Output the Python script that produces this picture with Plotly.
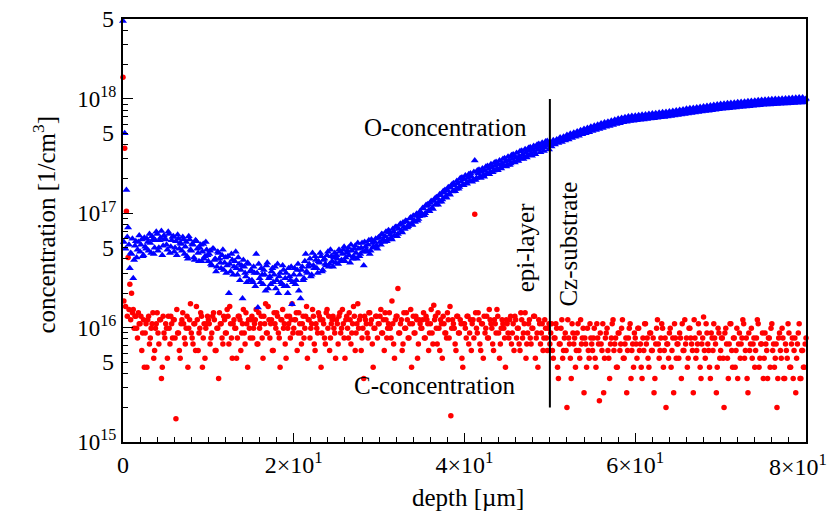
import plotly.graph_objects as go
import math

DEPTH_STEP_UM = 0.2

# O-concentration, units of 1e16 cm^-3, read at depths 0.0, 0.2, ... 80.0 um
O_1e16 = [
    480, 50, 16, 7.5, 3.3, 4.4, 2.7, 5.2, 4.1, 5.6, 4.6, 5.9, 4.3, 5.1, 6.0, 4.7, 5.5, 6.3, 4.4, 5.8, 6.6, 5.0, 6.1, 4.3, 6.4,
    5.9, 4.8, 6.6, 5.1, 6.2, 4.6, 5.7, 6.5, 4.9, 5.4, 6.2, 4.4, 5.6, 4.0, 5.9, 4.7, 5.3, 3.9, 5.7, 4.5, 5.0, 3.8, 5.4, 4.2, 4.8,
    3.8, 4.7, 3.5, 4.9, 4.0, 3.4, 4.5, 3.7, 4.3, 3.2, 4.1, 3.5, 2.0, 3.1, 3.9, 3.4, 4.6, 2.9, 3.6, 3.2, 1.8, 3.4, 2.8, 3.7, 2.6,
    3.2, 2.5, 3.0, 4.4, 1.5, 2.7, 3.3, 2.4, 2.9, 3.5, 2.2, 2.8, 3.1, 2.5, 3.4, 2.6, 2.0, 3.0, 2.4, 3.2, 2.7, 2.3, 3.3, 2.6, 1.6,
    2.9, 2.4, 3.2, 2.1, 1.8, 3.4, 2.7, 4.4, 3.0, 3.6, 2.8, 4.5, 3.3, 3.9, 3.0, 3.7, 4.2, 3.2, 4.0, 3.5, 4.6, 3.6, 4.2, 3.4, 4.5,
    4.3, 3.6, 4.6, 3.9, 4.8, 3.8, 4.5, 5.0, 3.7, 4.7, 4.2, 5.2, 4.0, 4.9, 4.4, 5.5, 3.5, 5.1, 4.6, 5.8, 4.7, 5.5, 5.0, 6.0, 4.9,
    6.2, 5.3, 6.5, 5.6, 6.9, 5.9, 6.8, 6.1, 7.3, 6.4, 7.6, 6.6, 7.9, 7.0, 8.3, 7.3, 8.5, 7.7, 9.0, 8.1, 9.5, 8.4, 9.9, 8.9, 10.4,
    9.5, 11.0, 10.0, 11.6, 10.6, 12.3, 11.2, 12.9, 11.9, 13.6, 12.6, 14.4, 13.2, 15.1, 14.0, 15.9, 14.8, 16.7, 15.5, 17.6, 16.3, 18.2, 17.0, 19.0, 17.8,
    19.8, 18.4, 20.3, 19.1, 21.0, 19.6, 29.0, 20.4, 22.3, 20.9, 23.0, 21.5, 23.6, 22.2, 24.4, 22.8, 25.1, 23.6, 25.9, 24.4, 26.7, 25.0, 27.4, 25.8, 28.2,
    26.6, 28.9, 27.3, 29.8, 28.2, 30.7, 29.0, 31.6, 30.0, 32.6, 31.1, 33.8, 32.2, 35.0, 33.4, 36.1, 34.5, 37.2, 35.7, 38.3, 36.6, 39.2, 37.6, 40.1, 38.7,
    41.8, 38.4, 43.5, 39.9, 44.1, 41.2, 45.9, 42.0, 46.6, 43.3, 48.4, 44.1, 49.5, 45.6, 50.6, 46.8, 52.0, 47.6, 53.3, 49.0, 54.5, 50.1, 55.6, 51.2, 57.0,
    52.4, 58.2, 53.5, 59.6, 54.7, 60.9, 55.7, 62.1, 57.0, 63.3, 58.1, 64.5, 59.3, 65.8, 60.4, 67.1, 61.3, 68.1, 62.4, 69.2, 63.2, 70.2, 64.1, 70.9, 64.6,
    71.3, 65.0, 71.9, 65.6, 72.6, 66.1, 73.2, 66.7, 73.9, 67.3, 74.4, 67.9, 75.1, 68.4, 75.7, 69.0, 76.3, 69.6, 77.0, 70.2, 77.6, 70.9, 78.4, 71.6, 79.3,
    72.4, 80.2, 73.1, 81.0, 73.9, 81.9, 74.6, 82.7, 75.3, 83.5, 76.1, 84.3, 76.8, 85.2, 77.6, 86.0, 78.3, 86.8, 79.0, 87.7, 79.8, 88.5, 80.5, 89.3, 81.3,
    90.3, 82.0, 90.9, 82.5, 91.6, 83.1, 92.2, 83.7, 92.8, 84.2, 93.5, 84.8, 94.1, 85.4, 94.7, 85.9, 95.4, 86.5, 96.0, 87.1, 96.6, 87.6, 97.3, 88.2, 97.9,
    88.8, 98.4, 89.2, 98.8, 89.5, 99.3, 89.9, 99.7, 90.3, 100.1, 90.7, 100.5, 91.0, 101.0, 91.4, 101.4, 91.8, 101.8, 92.2, 102.3, 92.5, 102.7, 92.9, 103.1, 93.3,
    100.5,
]

# O-concentration, units of 1e16 cm^-3, read at depths 0.1, 0.3, ... 79.9 um
O_mid_1e16 = [
    5.6, 4.9, 6.2, 5.3, 4.5, 6.0, 3.9, 5.7, 4.8, 6.4, 5.3, 4.2, 6.1, 4.9, 5.6, 6.6, 4.5, 5.9, 5.0, 6.9, 4.7, 5.8, 7.0, 5.2, 6.0,
    5.3, 6.9, 4.5, 5.8, 6.3, 5.0, 4.3, 6.0, 5.5, 4.7, 5.9, 5.1, 4.2, 6.3, 4.8, 5.4, 4.1, 5.8, 4.9, 3.8, 5.3, 4.6, 4.0, 5.6, 4.3,
    4.4, 3.6, 4.9, 3.9, 3.1, 4.6, 4.0, 3.3, 4.8, 3.7, 3.0, 4.2, 3.6, 4.4, 2.9, 3.8, 3.3, 4.1, 2.6, 3.5, 3.9, 3.0, 2.5, 3.6, 3.1,
    2.6, 3.4, 2.3, 3.0, 3.6, 2.5, 2.9, 3.2, 2.1, 3.7, 2.7, 2.4, 3.3, 2.9, 2.2, 3.6, 2.8, 2.5, 3.5, 2.3, 3.0, 2.0, 2.8, 3.4, 2.5,
    3.3, 2.6, 3.6, 2.9, 3.2, 2.6, 3.8, 3.1, 3.4, 4.0, 2.9, 3.5, 4.2, 3.3, 3.8, 4.5, 3.1, 3.9, 3.6, 4.3, 3.4, 4.8, 3.8, 4.1, 3.7,
    4.0, 4.8, 3.8, 4.4, 5.1, 4.1, 4.7, 4.3, 5.3, 4.0, 4.9, 4.5, 5.5, 4.2, 5.0, 4.6, 5.6, 4.8, 5.3, 4.4, 5.9, 5.1, 5.6, 5.2, 6.1,
    5.6, 6.6, 5.9, 6.3, 5.7, 7.1, 6.5, 5.9, 6.9, 7.6, 6.3, 7.3, 8.1, 6.8, 7.6, 8.6, 7.5, 8.0, 9.2, 7.9, 8.7, 9.6, 8.6, 9.4, 10.0,
    11.1, 9.6, 11.8, 12.0, 10.4, 12.8, 10.9, 13.4, 13.8, 11.9, 14.7, 12.6, 15.6, 16.0, 13.7, 16.9, 14.5, 17.8, 18.3, 15.6, 19.2, 16.4, 20.2, 20.6, 17.6,
    21.4, 18.1, 22.0, 22.3, 18.9, 23.0, 19.5, 23.7, 24.0, 20.3, 24.6, 20.9, 25.5, 25.9, 22.0, 26.8, 22.8, 27.7, 28.1, 23.8, 29.0, 24.6, 29.9, 30.3, 25.7,
    31.2, 26.5, 32.2, 32.7, 27.8, 33.7, 28.6, 34.8, 35.2, 29.8, 36.3, 30.7, 37.3, 37.8, 31.9, 38.8, 32.9, 39.8, 40.3, 34.1, 41.3, 35.0, 42.4, 42.8, 36.2,
    40.3, 41.0, 41.4, 42.2, 42.6, 43.4, 43.8, 44.6, 45.0, 45.8, 46.2, 47.0, 47.4, 48.2, 48.6, 49.4, 49.8, 50.6, 51.0, 51.8, 52.2, 53.0, 53.4, 54.2, 54.6,
    55.6, 55.7, 56.8, 56.9, 58.0, 58.1, 59.2, 59.3, 60.4, 60.5, 61.6, 61.7, 62.8, 62.9, 64.0, 64.0, 65.0, 65.0, 66.0, 66.0, 67.0, 66.9, 67.7, 67.5, 68.3,
    68.5, 68.3, 69.1, 68.9, 69.7, 69.5, 70.3, 70.1, 70.9, 70.7, 71.5, 71.3, 72.1, 71.9, 72.7, 72.5, 73.3, 73.1, 73.9, 73.7, 74.5, 74.4, 75.3, 75.2, 76.1,
    76.5, 76.4, 77.3, 77.2, 78.1, 78.0, 78.9, 78.8, 79.7, 79.6, 80.5, 80.4, 81.3, 81.2, 82.1, 82.0, 82.9, 82.8, 83.7, 83.6, 84.5, 84.4, 85.3, 85.2, 86.1,
    86.4, 86.5, 87.0, 87.1, 87.6, 87.7, 88.2, 88.3, 88.8, 88.9, 89.4, 89.5, 90.0, 90.1, 90.6, 90.7, 91.2, 91.3, 91.8, 91.9, 92.4, 92.5, 93.0, 93.1, 93.6,
    93.9, 93.8, 94.3, 94.2, 94.7, 94.6, 95.1, 95.0, 95.5, 95.4, 95.9, 95.8, 96.3, 96.2, 96.7, 96.6, 97.1, 97.0, 97.5, 97.4, 97.9, 97.8, 98.3, 98.2, 98.7,
]

# C-concentration, units of 1e15 cm^-3, read at depths 0.0, 0.2, ... 80.0 um
C_1e15 = [
    1550, 370, 104, 41, 24, 20, 14.4, 12.6, 9.9, 13.5, 10.8, 6.3, 11.7, 9.0, 4.5, 12.6, 8.1, 10.8, 5.4, 9.9, 13.5, 7.2, 11.7, 4.5, 9.0,
    10.8, 5.4, 9.9, 12.6, 8.1, 11.7, 1.6, 9.0, 6.3, 10.8, 13.5, 8.1, 9.9, 4.5, 11.7, 9.0, 7.2, 10.8, 15.3, 6.3, 9.9, 12.6, 8.1, 5.4, 10.8,
    11.7, 7.2, 9.0, 13.5, 6.3, 9.9, 3.6, 10.8, 8.1, 12.6, 9.0, 14.4, 7.2, 10.8, 5.4, 11.7, 9.9, 8.1, 12.6, 6.3, 10.8, 9.0, 13.5, 4.5, 9.9,
    11.7, 8.1, 10.8, 14.4, 7.2, 9.9, 12.6, 5.4, 10.8, 9.0, 15.3, 8.1, 11.7, 6.3, 10.8, 13.5, 9.0, 4.5, 11.7, 9.9, 7.2, 12.6, 10.8, 8.1, 16.2,
    9.9, 11.7, 6.3, 13.5, 9.0, 10.8, 8.1, 12.6, 5.4, 11.7, 9.9, 14.4, 7.2, 10.8, 9.0, 12.6, 4.5, 11.7, 8.1, 13.5, 9.9, 6.3, 10.8, 12.6, 9.0,
    11.7, 7.2, 13.5, 9.9, 10.8, 5.4, 12.6, 8.1, 11.7, 9.0, 15.3, 6.3, 10.8, 9.9, 12.6, 8.1, 3.6, 11.7, 9.0, 13.5, 10.8, 7.2, 9.9, 12.6, 8.1,
    10.8, 14.4, 9.0, 6.3, 11.7, 9.9, 13.5, 8.1, 10.8, 5.4, 12.6, 22.0, 9.0, 11.7, 7.2, 9.9, 13.5, 8.1, 10.8, 4.5, 12.6, 9.0, 11.7, 7.2, 10.8,
    9.9, 13.5, 8.1, 11.7, 6.3, 10.8, 9.0, 15.7, 12.6, 7.2, 9.9, 11.7, 5.4, 10.8, 9.0, 13.5, 8.1, 1.7, 11.7, 9.9, 6.3, 12.6, 9.0, 10.8, 4.5,
    10.8, 8.1, 12.6, 9.0, 6.3, 11.7, 98, 9.9, 13.5, 7.2, 10.8, 5.4, 9.0, 12.6, 8.1, 11.7, 9.9, 6.3, 10.8, 14.4, 9.0, 7.2, 11.7, 9.9, 4.5,
    10.8, 8.1, 12.6, 9.0, 6.3, 11.7, 9.9, 7.2, 13.5, 8.1, 10.8, 5.4, 9.0, 11.7, 7.2, 9.9, 12.6, 8.1, 4.5, 10.8, 9.0, 6.3, 11.7, 8.1, 9.9,
    7.2, 10.8, 5.4, 8.1, 9.9, 3.6, 7.2, 11.7, 6.3, 9.0, 2.0, 8.1, 5.4, 10.8, 7.2, 4.5, 9.0, 6.3, 11.7, 8.1, 2.7, 7.2, 9.9, 5.4, 8.1,
    6.3, 9.9, 4.5, 8.1, 2.3, 7.2, 10.8, 5.4, 9.0, 6.3, 3.6, 8.1, 11.7, 7.2, 4.5, 9.0, 6.3, 9.9, 5.4, 7.2, 2.7, 8.1, 10.8, 6.3, 4.5,
    8.1, 5.4, 9.9, 7.2, 3.6, 6.3, 10.8, 8.1, 4.5, 9.0, 6.3, 2.7, 7.2, 11.7, 5.4, 8.1, 9.9, 6.3, 2.0, 7.2, 9.0, 4.5, 8.1, 10.8, 5.4,
    7.2, 9.0, 3.6, 6.3, 11.7, 8.1, 5.4, 9.9, 7.2, 2.7, 8.1, 6.3, 10.8, 4.5, 7.2, 12.4, 5.4, 9.0, 6.3, 3.6, 8.1, 10.8, 7.2, 4.5, 9.0,
    6.3, 8.1, 2.0, 9.9, 5.4, 7.2, 10.8, 4.5, 8.1, 6.3, 3.6, 9.0, 7.2, 11.7, 5.4, 8.1, 2.7, 6.3, 9.9, 7.2, 4.5, 8.1, 10.8, 5.4, 7.2,
    3.6, 9.0, 6.3, 8.1, 4.5, 10.8, 7.2, 5.4, 2.0, 8.1, 6.3, 9.9, 3.6, 7.2, 5.4, 9.0, 4.5, 8.1, 6.3, 2.7, 7.2, 10.8, 3.6, 6.3, 4.5,
    8.1,
]

# C-concentration, units of 1e15 cm^-3, read at depths 0.1, 0.3, ... 79.9 um
C_mid_1e15 = [
    17.1, 15.3, 12.6, 14.4, 11.7, 13.5, 9.9, 12.6, 8.1, 10.8, 12.6, 9.0, 4.5, 10.8, 11.7, 7.2, 9.9, 13.5, 6.3, 10.8, 9.0, 11.7, 3.6, 12.6, 8.1,
    9.9, 12.6, 7.2, 10.8, 11.7, 8.1, 14.4, 9.0, 5.4, 11.7, 10.8, 7.2, 12.6, 9.9, 16.2, 8.1, 10.8, 6.3, 11.7, 9.0, 13.5, 4.5, 10.8, 9.9, 12.6,
    10.8, 8.1, 12.6, 11.7, 6.3, 9.9, 13.5, 10.8, 7.2, 11.7, 9.0, 12.6, 15.3, 8.1, 10.8, 9.9, 5.4, 12.6, 11.7, 9.0, 14.4, 7.2, 10.8, 11.7, 8.1,
    12.6, 9.9, 11.7, 7.2, 13.5, 10.8, 8.1, 12.6, 16.2, 9.0, 11.7, 10.8, 6.3, 13.5, 9.9, 12.6, 8.1, 11.7, 14.4, 10.8, 5.4, 9.9, 12.6, 11.7, 9.0,
    11.7, 13.5, 9.0, 10.8, 7.2, 12.6, 9.9, 15.3, 11.7, 8.1, 10.8, 12.6, 6.3, 9.9, 13.5, 11.7, 9.0, 10.8, 7.2, 14.4, 12.6, 8.1, 11.7, 9.9, 5.4,
    10.8, 12.6, 9.0, 14.4, 8.1, 11.7, 9.9, 13.5, 7.2, 10.8, 12.6, 9.0, 16.2, 11.7, 6.3, 9.9, 12.6, 10.8, 8.1, 13.5, 11.7, 4.5, 9.9, 12.6, 10.8,
    12.6, 9.0, 11.7, 13.5, 8.1, 10.8, 9.9, 17.1, 7.2, 11.7, 12.6, 9.0, 10.8, 6.3, 13.5, 9.9, 11.7, 8.1, 14.4, 10.8, 9.0, 12.6, 5.4, 11.7, 9.9,
    11.7, 8.1, 12.6, 10.8, 9.0, 14.4, 7.2, 11.7, 9.9, 13.5, 6.3, 10.8, 12.6, 9.0, 8.1, 11.7, 15.3, 9.9, 10.8, 7.2, 12.6, 9.0, 11.7, 5.4, 10.8,
    9.9, 12.6, 7.2, 11.7, 10.8, 8.1, 13.5, 9.0, 11.7, 6.3, 10.8, 12.6, 9.9, 8.1, 14.4, 10.8, 7.2, 11.7, 9.0, 12.6, 5.4, 9.9, 10.8, 8.1, 11.7,
    9.0, 11.7, 7.2, 10.8, 12.6, 8.1, 9.9, 6.3, 11.7, 9.0, 13.5, 7.2, 10.8, 8.1, 9.9, 12.6, 5.4, 9.0, 11.7, 7.2, 10.8, 8.1, 9.9, 6.3, 10.8,
    9.0, 6.3, 8.1, 10.8, 4.5, 7.2, 9.9, 5.4, 8.1, 6.3, 11.7, 7.2, 3.6, 9.0, 8.1, 6.3, 10.8, 5.4, 7.2, 9.9, 8.1, 4.5, 6.3, 10.8, 7.2,
    8.1, 5.4, 10.8, 7.2, 9.0, 6.3, 2.7, 8.1, 9.9, 5.4, 7.2, 10.8, 6.3, 8.1, 4.5, 9.0, 7.2, 11.7, 5.4, 8.1, 6.3, 9.9, 3.6, 7.2, 9.0,
    7.2, 9.9, 6.3, 4.5, 8.1, 10.8, 7.2, 5.4, 9.0, 6.3, 8.1, 3.6, 9.9, 7.2, 6.3, 10.8, 4.5, 8.1, 7.2, 5.4, 9.9, 6.3, 2.7, 8.1, 7.2,
    5.4, 8.1, 10.8, 6.3, 7.2, 4.5, 9.9, 8.1, 6.3, 11.7, 5.4, 7.2, 9.0, 3.6, 8.1, 6.3, 10.8, 7.2, 4.5, 9.0, 6.3, 8.1, 2.7, 9.9, 5.4,
    8.1, 5.4, 9.0, 7.2, 3.6, 10.8, 6.3, 8.1, 4.5, 9.9, 7.2, 5.4, 8.1, 10.8, 6.3, 3.6, 9.0, 7.2, 5.4, 8.1, 6.3, 11.7, 4.5, 7.2, 9.0,
    5.4, 7.2, 3.6, 8.1, 9.9, 6.3, 4.5, 7.2, 3.6, 9.0, 5.4, 8.1, 3.6, 6.3, 10.8, 4.5, 7.2, 3.6, 8.1, 5.4, 9.0, 3.6, 6.3, 4.5, 7.2,
]

assert len(O_1e16) == 401 and len(C_1e15) == 401, (len(O_1e16), len(C_1e15))
assert len(O_mid_1e16) == 400 and len(C_mid_1e15) == 400, (len(O_mid_1e16), len(C_mid_1e15))

depth_um = [round(i * DEPTH_STEP_UM, 1) for i in range(len(O_1e16))]
depth_mid_um = [round(i * DEPTH_STEP_UM + DEPTH_STEP_UM / 2, 1) for i in range(len(O_mid_1e16))]

all_depth = depth_um + depth_mid_um
O_conc = [v * 1e16 for v in O_1e16 + O_mid_1e16]
C_conc = [v * 1e15 for v in C_1e15 + C_mid_1e15]

# epi-layer / Cz-substrate interface
interface_depth = [50, 50]
interface_span = [2e15, 1e18]

# axis ticks (the last x label is drawn as an annotation so it stays inside the page)
x_tick_vals = [0, 20, 40, 60, 80]
x_tick_text = ["0", "2×10<sup>1</sup>", "4×10<sup>1</sup>", "6×10<sup>1</sup>", ""]
x_last_label = "8×10<sup>1</sup>"
y_major_vals = [1e15, 1e16, 1e17, 1e18]
y_major_text = ["10<sup>15</sup>", "10<sup>16</sup>", "10<sup>17</sup>", "10<sup>18</sup>"]
y_five_vals = [5e15, 5e16, 5e17, 5e18]
y_five_text = ["5", "5", "5", "5"]

FONT = "Liberation Serif"
Y_TOP = 5e18
Y_BOTTOM = 1e15

y_minor = [k * 10 ** e for e in range(15, 19) for k in range(2, 10) if k * 10 ** e <= Y_TOP]

fig = go.Figure()

fig.add_trace(go.Scatter(
    x=all_depth, y=C_conc, mode="markers", name="C-concentration",
    marker=dict(symbol="circle", size=5.5, color="#ff0000", line=dict(width=0)),
    cliponaxis=False, showlegend=False,
))
fig.add_trace(go.Scatter(
    x=all_depth, y=O_conc, mode="markers", name="O-concentration",
    marker=dict(symbol="triangle-up", size=7, color="#0000ff", line=dict(width=0)),
    cliponaxis=False, showlegend=False,
))
fig.add_trace(go.Scatter(
    x=interface_depth, y=interface_span, mode="lines",
    line=dict(color="black", width=2), showlegend=False, hoverinfo="skip",
))

TXT = dict(family=FONT, size=25, color="black")

annotations = []
for v, t in zip(y_five_vals, y_five_text):
    annotations.append(dict(
        xref="paper", yref="y", x=0, y=math.log10(v), text=t, showarrow=False,
        xanchor="right", yanchor="middle", xshift=-7,
        font=dict(family=FONT, size=24, color="black"),
    ))

annotations += [
    dict(xref="x", yref="paper", x=x_tick_vals[-1], y=-0.054, text=x_last_label, showarrow=False,
         xanchor="right", yanchor="middle", xshift=23,
         font=dict(family=FONT, size=24, color="black")),
    dict(xref="x", yref="y", x=37.8, y=math.log10(5.6e17), text="O-concentration",
         showarrow=False, font=TXT),
    dict(xref="x", yref="y", x=36.5, y=math.log10(3.15e15), text="C-concentration",
         showarrow=False, font=TXT),
    dict(xref="x", yref="y", x=47.1, y=math.log10(5.05e16), text="epi-layer", textangle=-90,
         showarrow=False, font=TXT),
    dict(xref="x", yref="y", x=52.2, y=math.log10(5.4e16), text="Cz-substrate", textangle=-90,
         showarrow=False, font=TXT),
    dict(xref="paper", yref="paper", x=-0.115, y=0.515, text="concentration [1/cm<sup>3</sup>]",
         textangle=-90, showarrow=False, xanchor="center", yanchor="middle", font=TXT),
    dict(xref="paper", yref="paper", x=0.505, y=-0.132, text="depth [µm]",
         showarrow=False, yanchor="middle", font=TXT),
]

fig.update_layout(
    width=833, height=516,
    margin=dict(l=123, r=27, t=19, b=74, pad=0),
    paper_bgcolor="white", plot_bgcolor="white",
    font=dict(family=FONT, size=24, color="black"),
    annotations=annotations,
    showlegend=False,
)

fig.update_xaxes(
    range=[0, 80], showgrid=False, zeroline=False, automargin=False,
    ticklabeloverflow="allow",
    showline=True, linecolor="black", linewidth=2, mirror=True,
    ticks="inside", ticklen=9, tickwidth=1.2, tickcolor="black",
    tickmode="array", tickvals=x_tick_vals, ticktext=x_tick_text,
    tickfont=dict(family=FONT, size=24, color="black"),
    minor=dict(ticks="inside", ticklen=5, tickwidth=1, tickcolor="black", dtick=2, tick0=0, showgrid=False),
)
fig.update_yaxes(
    type="log", range=[math.log10(Y_BOTTOM), math.log10(Y_TOP)], showgrid=False, zeroline=False,
    automargin=False, ticklabeloverflow="allow",
    showline=True, linecolor="black", linewidth=2, mirror=True,
    ticks="inside", ticklen=10, tickwidth=1.2, tickcolor="black",
    tickmode="array", tickvals=y_major_vals, ticktext=y_major_text,
    tickfont=dict(family=FONT, size=23, color="black"),
    minor=dict(ticks="inside", ticklen=5, tickwidth=1, tickcolor="black", tickmode="array",
               tickvals=y_minor, showgrid=False),
)

fig.write_html("out.html")
